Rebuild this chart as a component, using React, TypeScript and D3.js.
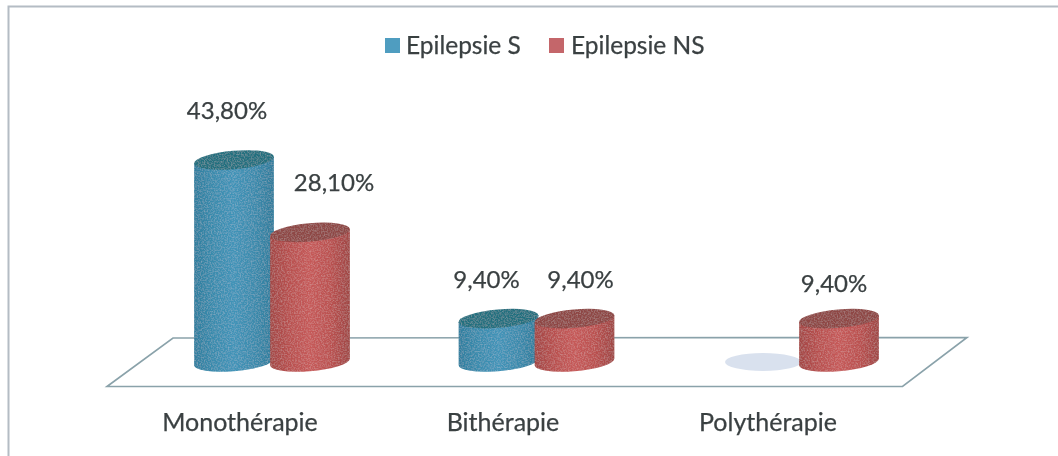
import React from "react";
import * as d3 from "d3";

const categories = ["Monothérapie", "Bithérapie", "Polythérapie"];
const seriesNames = ["Epilepsie S", "Epilepsie NS"];
const epilepsieS = [43.8, 9.4, 0];
const epilepsieNS = [28.1, 9.4, 9.4];
const labelsS = ["43,80%", "9,40%", ""];
const labelsNS = ["28,10%", "9,40%", "9,40%"];

const W = 1058, H = 456;
const font = "Lato, 'Noto Sans', sans-serif";
const textColor = "#3a4042";
const baseY = 362;
const a = 40, b = 9.2, tilt = 5;

const x = d3.scalePoint<string>().domain(categories).range([272, 801]);
const offset = d3.scalePoint<string>().domain(seriesNames).range([-38, 38]);
const y = d3.scaleLinear().domain([0, 43.8]).range([baseY, 160]);

const palette = [
  { id: "blue", stops: ["#2f7e9e", "#3a8cae", "#4294b8", "#3b8bad", "#2f7c9b"], top: "#21707f", swatch: "#4f9dc0" },
  { id: "red", stops: ["#a34745", "#b9504f", "#c65a59", "#bb5150", "#9f4644"], top: "#8e4644", swatch: "#c4666a" },
];

const th = (tilt * Math.PI) / 180;
const ex = Math.sqrt(a * a * Math.cos(th) ** 2 + b * b * Math.sin(th) ** 2);
const ey = ((a * a - b * b) * Math.sin(th) * Math.cos(th)) / ex;

function Cylinder({ cx, value, s }: { cx: number; value: number; s: number }) {
  const top = y(value);
  const p = palette[s];
  const body = `M${cx - ex},${top + ey} L${cx - ex},${baseY + ey} A${a},${b} ${-tilt} 0 0 ${cx + ex},${baseY - ey} L${cx + ex},${top - ey} Z`;
  return (
    <g filter="url(#grain)">
      <path d={body} fill={`url(#grad-${p.id})`} />
      <ellipse cx={cx} cy={top} rx={a} ry={b} fill={p.top} transform={`rotate(${-tilt} ${cx} ${top})`} />
    </g>
  );
}

export default function App() {
  const legendItems = [
    { x: 385, textX: 406, name: seriesNames[0], color: palette[0].swatch },
    { x: 549, textX: 571, name: seriesNames[1], color: palette[1].swatch },
  ];
  const labelPos = [
    [[-45, 119], [62, 191]],
    [[-50, 288], [44, 288]],
    [[0, 0], [33, 292]],
  ];
  return (
    <svg width={W} height={H} viewBox={`0 0 ${W} ${H}`} style={{ position: "absolute", left: 0, top: 0, background: "#fff" }}>
      <defs>
        {palette.map((p) => (
          <linearGradient key={p.id} id={`grad-${p.id}`} x1="0" x2="1" y1="0" y2="0">
            {p.stops.map((c, i) => (
              <stop key={i} offset={`${i * 25}%`} stopColor={c} />
            ))}
          </linearGradient>
        ))}
        <filter id="soft" x="-5%" y="-5%" width="110%" height="110%">
          <feGaussianBlur stdDeviation="0.55" />
        </filter>
        <filter id="grain" x="0" y="0" width="100%" height="100%">
          <feTurbulence type="fractalNoise" baseFrequency="0.7" numOctaves="2" seed="3" result="n" />
          <feColorMatrix in="n" type="matrix" values="0 0 0 0 1  0 0 0 0 1  0 0 0 0 1  0 0 0 0.35 -0.14" result="w" />
          <feComposite in="w" in2="SourceAlpha" operator="in" result="g" />
          <feMerge>
            <feMergeNode in="SourceGraphic" />
            <feMergeNode in="g" />
          </feMerge>
        </filter>
      </defs>
      <rect width={W} height={H} fill="#fff" />
      <g filter="url(#soft)">
        <path d={`M8.5,${H + 10} L8.5,6.5 L${W + 10},6.5`} fill="none" stroke="#b4bcc4" strokeWidth={2} />
        <polygon points="107,386.5 173,338 967,337.5 902.5,386.5" fill="#fff" stroke="#8aa2aa" strokeWidth={1.6} />
        <ellipse cx={x("Polythérapie")! + offset(seriesNames[0])!} cy={baseY} rx={38} ry={9} fill="#d9e1ee" />
        {categories.map((c, i) => (
          <g key={c}>
            {epilepsieS[i] > 0 && <Cylinder cx={x(c)! + offset(seriesNames[0])!} value={epilepsieS[i]} s={0} />}
            <Cylinder cx={x(c)! + offset(seriesNames[1])!} value={epilepsieNS[i]} s={1} />
          </g>
        ))}
        {categories.map((c, i) => (
          <g key={c} fontFamily={font} fill={textColor} stroke={textColor} strokeWidth={0.25} textAnchor="middle">
            <g fontSize={24}>
              {labelsS[i] && <text x={x(c)! + labelPos[i][0][0]} y={labelPos[i][0][1]}>{labelsS[i]}</text>}
              <text x={x(c)! + labelPos[i][1][0]} y={labelPos[i][1][1]}>{labelsNS[i]}</text>
            </g>
            <text fontSize={25} x={[240, 503, 768][i]} y={431}>{c}</text>
          </g>
        ))}
        {legendItems.map((l) => (
          <g key={l.name}>
            <rect x={l.x} y={38} width={15} height={15} fill={l.color} />
            <text x={l.textX} y={54} fontFamily={font} fontSize={24.5} fill={textColor} stroke={textColor} strokeWidth={0.25}>{l.name}</text>
          </g>
        ))}
      </g>
    </svg>
  );
}
